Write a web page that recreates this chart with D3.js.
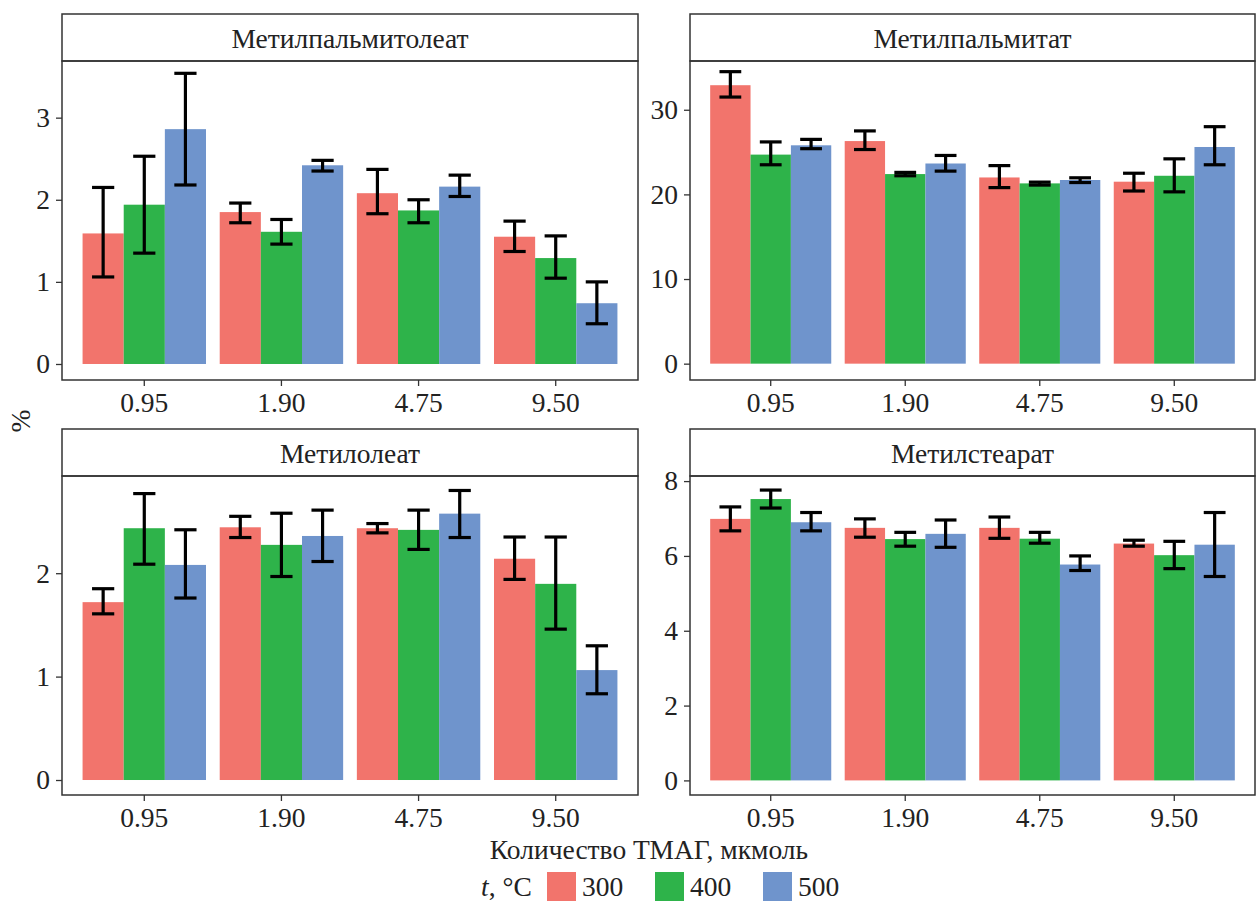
<!DOCTYPE html>
<html>
<head>
<meta charset="utf-8">
<script src="https://cdn.jsdelivr.net/npm/d3@7"></script>
<style>
  html, body { margin: 0; padding: 0; background: #fff; }
  svg { display: block; }
  text { font-family: "Liberation Serif", "Times New Roman", serif; fill: #222; }
</style>
</head>
<body>
<svg id="chart" width="1257" height="901"></svg>
<script>
// Amounts of TMAH (x categories) and pyrolysis temperatures (series)
const categories = ["0.95", "1.90", "4.75", "9.50"];
const temperatures = ["300", "400", "500"];
const colors = ["#F2746C", "#2EB34A", "#6F94CC"];

// Each row: one TMAH amount; columns: 300, 400, 500 °C
const palmitoleateMean = [[1.59, 1.94, 2.86], [1.85, 1.61, 2.42], [2.08, 1.87, 2.16], [1.55, 1.29, 0.74]];
const palmitoleateLow  = [[1.06, 1.35, 2.18], [1.72, 1.46, 2.35], [1.83, 1.72, 2.04], [1.37, 1.045, 0.49]];
const palmitoleateHigh = [[2.15, 2.53, 3.54], [1.96, 1.76, 2.48], [2.37, 2.00, 2.30], [1.74, 1.56, 1.00]];

const palmitateMean = [[32.9, 24.7, 25.8], [26.3, 22.4, 23.65], [22.0, 21.3, 21.7], [21.5, 22.2, 25.6]];
const palmitateLow  = [[31.5, 23.5, 25.4], [25.3, 22.2, 22.75], [20.8, 21.1, 21.4], [20.4, 20.3, 23.5]];
const palmitateHigh = [[34.5, 26.2, 26.5], [27.5, 22.6, 24.6], [23.4, 21.45, 21.96], [22.5, 24.2, 28.0]];

const oleateMean = [[1.72, 2.435, 2.08], [2.444, 2.274, 2.36], [2.435, 2.419, 2.576], [2.14, 1.897, 1.063]];
const oleateLow  = [[1.607, 2.087, 1.76], [2.345, 1.968, 2.113], [2.39, 2.23, 2.345], [1.94, 1.459, 0.834]];
const oleateHigh = [[1.85, 2.77, 2.42], [2.55, 2.58, 2.61], [2.48, 2.61, 2.80], [2.35, 2.35, 1.298]];

const stearateMean = [[6.99, 7.52, 6.90], [6.75, 6.45, 6.59], [6.75, 6.46, 5.77], [6.33, 6.02, 6.30]];
const stearateLow  = [[6.67, 7.28, 6.67], [6.50, 6.26, 6.23], [6.47, 6.34, 5.61], [6.26, 5.66, 5.45]];
const stearateHigh = [[7.31, 7.76, 7.16], [6.99, 6.63, 6.96], [7.04, 6.63, 6.00], [6.42, 6.39, 7.16]];

const panelTitles = ["Метилпальмитолеат", "Метилпальмитат", "Метилолеат", "Метилстеарат"];
const yTicksPalmitoleate = [0, 1, 2, 3];
const yTicksPalmitate = [0, 10, 20, 30];
const yTicksOleate = [0, 1, 2];
const yTicksStearate = [0, 2, 4, 6, 8];

const xTitle = "Количество ТМАГ, мкмоль";
const yTitle = "%";

// Facet layout
const colX = [[62, 638], [690, 1255]];
const rowY = [{ strip: 14, top: 61, bottom: 380 }, { strip: 429, top: 476, bottom: 795 }];

const panels = [
  { title: panelTitles[0], mean: palmitoleateMean, low: palmitoleateLow, high: palmitoleateHigh, ticks: yTicksPalmitoleate, domain: [-0.195, 3.69], col: 0, row: 0 },
  { title: panelTitles[1], mean: palmitateMean, low: palmitateLow, high: palmitateHigh, ticks: yTicksPalmitate, domain: [-1.93, 35.76], col: 1, row: 0 },
  { title: panelTitles[2], mean: oleateMean, low: oleateLow, high: oleateHigh, ticks: yTicksOleate, domain: [-0.145, 2.94], col: 0, row: 1 },
  { title: panelTitles[3], mean: stearateMean, low: stearateLow, high: stearateHigh, ticks: yTicksStearate, domain: [-0.39, 8.136], col: 1, row: 1 }
];

const svg = d3.select("#chart");
const FONT = 27.5;
const frameColor = "#333";

panels.forEach(p => {
  const [x0, x1] = colX[p.col];
  const r = rowY[p.row];
  const g = svg.append("g");

  const x = d3.scaleBand().domain(categories).range([x0, x1]).paddingInner(0.1).paddingOuter(0.15);
  const xi = d3.scaleBand().domain(temperatures).range([0, x.bandwidth()]);
  const y = d3.scaleLinear().domain(p.domain).range([r.bottom, r.top]);

  // strip
  g.append("rect").attr("x", x0).attr("y", r.strip).attr("width", x1 - x0).attr("height", r.top - r.strip)
    .attr("fill", "#fff").attr("stroke", frameColor).attr("stroke-width", 1.5);
  g.append("text").attr("x", (x0 + x1) / 2).attr("y", r.strip + 34).attr("text-anchor", "middle")
    .attr("font-size", FONT).text(p.title);

  // bars
  const rows = [];
  categories.forEach((c, i) => temperatures.forEach((t, j) => {
    rows.push({ cat: c, temp: t, j, v: p.mean[i][j], lo: p.low[i][j], hi: p.high[i][j] });
  }));

  g.selectAll("rect.bar").data(rows).join("rect").attr("class", "bar")
    .attr("x", d => x(d.cat) + xi(d.temp))
    .attr("width", xi.bandwidth())
    .attr("y", d => y(d.v))
    .attr("height", d => y(0) - y(d.v))
    .attr("fill", d => colors[d.j]);

  // error bars
  const cap = xi.bandwidth() * 0.27;
  const eb = g.selectAll("g.err").data(rows).join("g").attr("class", "err")
    .attr("stroke", "#000").attr("stroke-width", 3.2).attr("fill", "none");
  eb.each(function (d) {
    const cx = x(d.cat) + xi(d.temp) + xi.bandwidth() / 2;
    const s = d3.select(this);
    s.append("line").attr("x1", cx).attr("x2", cx).attr("y1", y(d.lo)).attr("y2", y(d.hi));
    s.append("line").attr("x1", cx - cap).attr("x2", cx + cap).attr("y1", y(d.lo)).attr("y2", y(d.lo));
    s.append("line").attr("x1", cx - cap).attr("x2", cx + cap).attr("y1", y(d.hi)).attr("y2", y(d.hi));
  });

  // panel frame
  g.append("rect").attr("x", x0).attr("y", r.top).attr("width", x1 - x0).attr("height", r.bottom - r.top)
    .attr("fill", "none").attr("stroke", frameColor).attr("stroke-width", 1.5);

  // y axis
  const yAxis = d3.axisLeft(y).tickValues(p.ticks).tickSize(6).tickPadding(6).tickFormat(d3.format("d"));
  const ya = g.append("g").attr("transform", `translate(${x0},0)`).call(yAxis);
  ya.select(".domain").remove();
  ya.selectAll(".tick line").attr("stroke", frameColor).attr("stroke-width", 1.3);
  ya.selectAll(".tick text").attr("font-size", FONT).attr("font-family", "Liberation Serif").attr("fill", "#222");

  // x axis
  const xAxis = d3.axisBottom(x).tickSize(6).tickPadding(6);
  const xa = g.append("g").attr("transform", `translate(0,${r.bottom})`).call(xAxis);
  xa.select(".domain").remove();
  xa.selectAll(".tick line").attr("stroke", frameColor).attr("stroke-width", 1.3);
  xa.selectAll(".tick text").attr("font-size", FONT).attr("font-family", "Liberation Serif").attr("fill", "#222");
});

// axis titles
svg.append("text").attr("x", 649).attr("y", 859).attr("text-anchor", "middle").attr("font-size", FONT).text(xTitle);
svg.append("text").attr("transform", "translate(30,421) rotate(-90)").attr("text-anchor", "middle")
  .attr("font-size", FONT).text(yTitle);

// legend
const legend = svg.append("g");
const lt = legend.append("text").attr("x", 481).attr("y", 896).attr("font-size", FONT);
lt.append("tspan").attr("font-style", "italic").text("t");
lt.append("tspan").text(", °C");
const legendX = d3.scaleOrdinal().domain(temperatures).range([547, 655, 763]);
temperatures.forEach((t, j) => {
  legend.append("rect").attr("x", legendX(t)).attr("y", 872).attr("width", 29).attr("height", 29).attr("fill", colors[j]);
  legend.append("text").attr("x", legendX(t) + 35).attr("y", 896).attr("font-size", FONT).text(t);
});
</script>
</body>
</html>
